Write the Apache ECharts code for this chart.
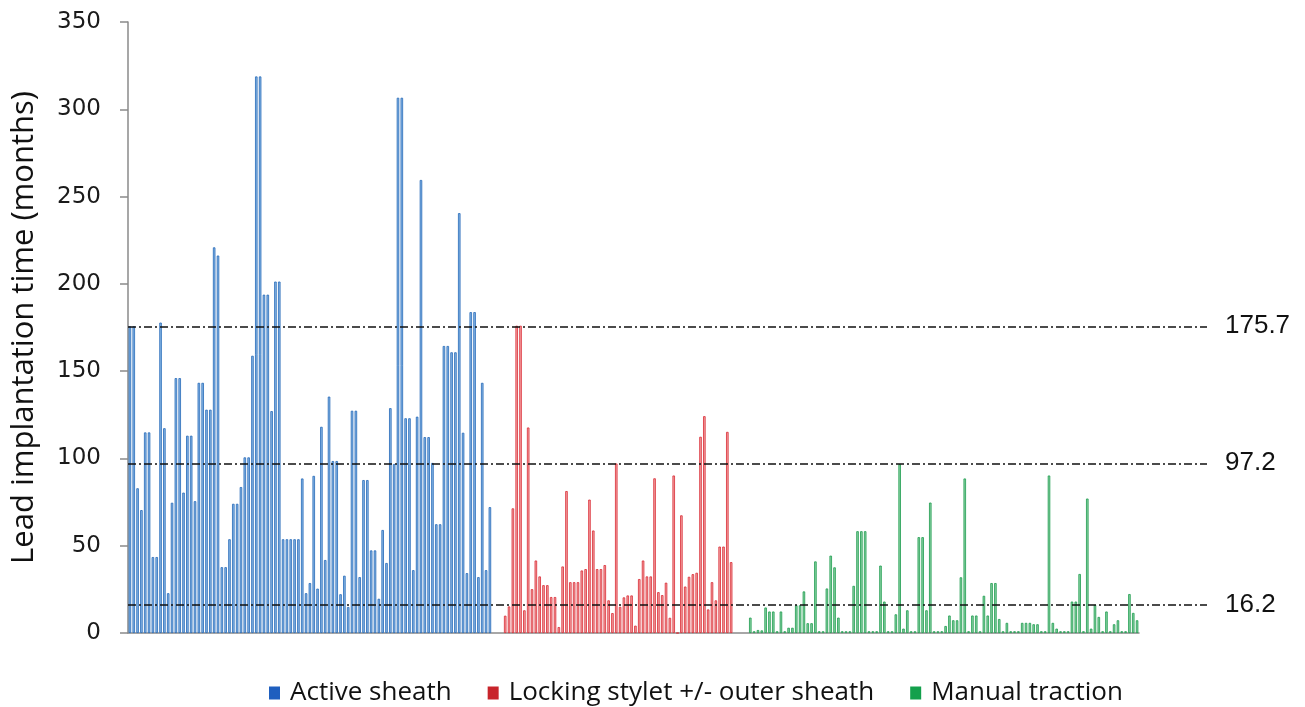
<!DOCTYPE html>
<html>
<head>
<meta charset="utf-8">
<title>Lead implantation time</title>
<script src="https://cdn.jsdelivr.net/npm/echarts@6/dist/echarts.min.js"></script>
<style>
  html, body { margin: 0; padding: 0; background: #fff; }
  #main { width: 1305px; height: 707px; }
</style>
</head>
<body>
<div id="main"></div>
<script>
// lead implantation time (months), one value per extracted lead
var activeSheath = [
  175.7, 175.7, 82.9, 70.4, 114.9, 114.9, 43.5, 43.5, 177.8, 117.3,
  22.8, 74.6, 146, 146, 80.4, 113, 113, 75.5, 143.3, 143.3,
  127.9, 127.9, 220.9, 216.2, 37.7, 37.7, 53.7, 74, 74, 83.6,
  100.6, 100.6, 158.8, 318.8, 318.8, 193.8, 193.8, 127.1, 201.3, 201.3,
  53.7, 53.7, 53.7, 53.7, 53.7, 88.5, 22.8,
  28.6, 90, 25.4, 118.1, 41.8, 135.4, 98.5, 98.5, 22.2, 32.8,
  14.9, 127.3, 127.3, 32, 87.6, 87.6, 47.3, 47.3, 19.6, 59,
  40.1, 128.8, 96.8, 306.6, 306.6, 123, 123, 36, 123.9, 259.5,
  112.2, 112.2, 97.4, 62.3, 62.3, 164.4, 164.4, 160.8, 160.8, 240.5,
  114.7, 34.3, 183.8, 183.8, 32, 143.3, 36, 72.1
];
var lockingStylet = [
  9.9, 15.2, 71.4, 176, 176, 13, 117.7, 25.1, 41.5, 32.4,
  27.4, 27.4, 20.6, 20.6, 3.4, 38.1, 81.3, 29.1, 29.1, 29.1,
  35.8, 36.6, 76.4, 58.7, 36.6, 36.6, 38.9, 18.7, 11.4, 97.1,
  15, 20.4, 21.5, 21.5, 4.2, 30.9, 41.5, 32.4, 32.4, 88.6,
  23.4, 21.7, 28.8, 8.7, 90.2, 0, 67.4, 26.6, 32.2, 33.7,
  34.5, 112.4, 124.2, 13.5, 29.1, 18.7, 49.5, 49.5, 115.2, 40.6
];
var manualTraction = [
  8.8, 1, 1.7, 1.5, 14.6, 12.3, 12.3, 1, 12.3, 1,
  3, 3, 15.9, 15.9, 23.8, 5.6, 5.6, 41, 1, 1,
  25.5, 44.3, 37.6, 8.8, 1, 1, 1, 27, 58.3, 58.3,
  58.3, 1, 1,
  1, 38.6, 18, 1, 1, 10.7, 96.7, 2.5, 13, 1,
  1, 54.9, 54.9, 13, 74.7, 1, 1, 1, 4, 10,
  7.3, 7.3, 31.9, 88.5, 1, 10, 10, 1, 21.3, 10,
  28.6, 28.6, 8, 1, 5.8,
  1, 1, 1, 5.8, 5.8, 5.8, 5, 5, 1, 1,
  90.2, 5.8, 2.5, 1, 1, 1, 18, 18, 33.8, 1,
  77, 2.5, 16.1, 9.2, 1, 12.3, 1, 5, 7.3, 1,
  1, 22.3, 11.5, 7.3
];
// empty category slots between the groups
var gapAfterActive = 3;
var gapAfterLocking = 4;
// dash-dot reference levels drawn across the plot
var refLevels = [175.7, 97.2, 16.2];
var seriesNames = ['Active sheath', 'Locking stylet +/- outer sheath', 'Manual traction'];

// lay the three groups out on one shared category axis
var groups = [activeSheath, lockingStylet, manualTraction];
var gaps = [gapAfterActive, gapAfterLocking, 0];
var total = 0;
groups.forEach(function (g, i) { total += g.length + gaps[i]; });
var categories = [];
for (var c = 0; c < total; c++) categories.push(String(c + 1));
var seriesData = [];
var pos = 0;
groups.forEach(function (g, i) {
  var arr = [];
  for (var k = 0; k < total; k++) arr.push(null);
  for (var j = 0; j < g.length; j++) arr[pos + j] = g[j];
  pos += g.length + gaps[i];
  seriesData.push(arr);
});

var fills = ['#8ab8e6', '#f4a4a4', '#8ad2a4'];
var edges = ['#2468b8', '#d92a33', '#1d9c4e'];
var legendColors = ['#1f5fbf', '#c8242b', '#13a04c'];

var myChart = echarts.init(document.getElementById('main'), null, { renderer: 'canvas' });

var refLines = refLevels.map(function (v) {
  return [
    { x: 128, yAxis: v, name: v.toFixed(1) },
    { x: 1207, yAxis: v }
  ];
});

var series = seriesData.map(function (d, i) {
  var s = {
    name: seriesNames[i],
    type: 'bar',
    stack: 'all',
    barWidth: 2.5,
    data: d,
    itemStyle: {
      color: fills[i],
      borderColor: edges[i],
      borderWidth: 0.8
    },
    silent: true
  };
  if (i === 0) {
    s.markLine = {
      silent: true,
      symbol: ['none', 'none'],
      lineStyle: {
        color: '#111',
        width: 1.6,
        type: [8, 3, 2, 3]
      },
      label: {
        show: true,
        position: 'end',
        distance: 18,
        formatter: '{b}',
        color: '#111',
        fontSize: 26,
        fontFamily: 'Liberation Sans, Arial, sans-serif'
      },
      emphasis: { disabled: true },
      data: refLines
    };
  }
  return s;
});

var option = {
  animation: false,
  backgroundColor: '#fff',
  grid: {
    left: 128,
    right: 166,
    top: 22,
    bottom: 74,
    containLabel: false
  },
  legend: {
    left: 264,
    top: 675,
    icon: 'rect',
    itemWidth: 11,
    itemHeight: 13,
    itemGap: 36,
    textStyle: {
      color: '#111',
      fontSize: 26,
      fontFamily: 'Open Sans, sans-serif',
      padding: [0, 0, 0, 5]
    },
    data: seriesNames.map(function (n, i) {
      return { name: n, itemStyle: { color: legendColors[i], borderWidth: 0 } };
    })
  },
  xAxis: {
    type: 'category',
    data: categories,
    axisLine: { lineStyle: { color: '#8a8a8a', width: 1.5 } },
    axisTick: { show: false },
    axisLabel: { show: false },
    splitLine: { show: false }
  },
  yAxis: {
    type: 'value',
    min: 0,
    max: 350,
    interval: 50,
    name: 'Lead implantation time (months)',
    nameLocation: 'middle',
    nameGap: 88,
    nameTextStyle: {
      color: '#111',
      fontSize: 31,
      fontFamily: 'Open Sans, sans-serif'
    },
    axisLine: { show: true, lineStyle: { color: '#8a8a8a', width: 1.5 } },
    axisTick: { show: true, length: 8, lineStyle: { color: '#8a8a8a', width: 1.5 } },
    axisLabel: {
      margin: 27,
      color: '#1a1a1a',
      fontSize: 23,
      fontFamily: 'DejaVu Sans, Verdana, sans-serif'
    },
    splitLine: { show: false }
  },
  series: series
};

myChart.setOption(option);
window.onresize = function () {
  myChart.resize();
};
</script>
</body>
</html>
